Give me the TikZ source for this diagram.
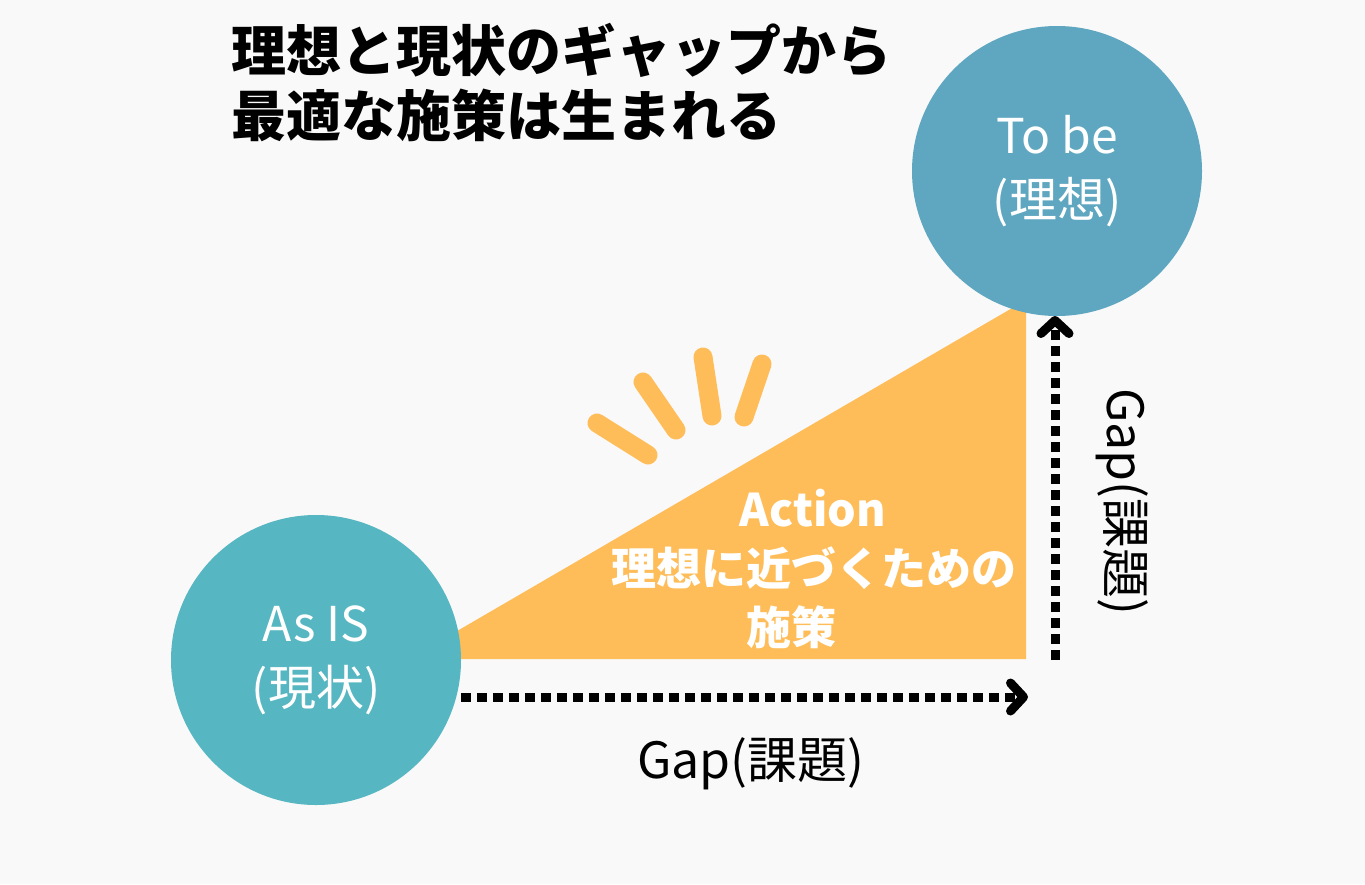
\documentclass[tikz,border=0pt]{standalone}
\usepackage{fontspec}
\setmainfont{Noto Sans CJK JP}
\usetikzlibrary{arrows.meta}
\definecolor{bgc}{HTML}{F9F9F9}
\definecolor{tobec}{HTML}{5FA7C0}
\definecolor{asisc}{HTML}{56B6C1}
\definecolor{orangec}{HTML}{FEBD59}
\tikzset{
  bubble/.style={circle, minimum size=290pt, inner sep=0pt, text=white, align=center,
    font=\fontsize{48}{64}\selectfont},
  ray/.style={draw=orangec, line width=19pt, line cap=round},
  gaparrow/.style={line width=9pt, dash pattern=on 10pt off 6pt,
    -{Straight Barb[round, length=13pt, width=28pt, line width=9pt]}},
  gaplabel/.style={font=\fontsize{50}{56}\selectfont, text=black, inner sep=0pt},
  acttext/.style={text=white, font=\bfseries\fontsize{45}{50}\selectfont, inner sep=0pt}
}
\begin{document}
\begin{tikzpicture}[x=1pt,y=-1pt]
\fill[bgc] (0,0) rectangle (1365,884);
\useasboundingbox (0,0) rectangle (1365,884);
% title
\node[anchor=north west, align=left, inner sep=0pt, font=\bfseries\fontsize{55}{65}\selectfont] (title) at (231,23)
  {理想と現状のギャップから\\最適な施策は生まれる};
% triangle
\fill[orangec] (409,659) -- (1026,659) -- (1026,300) -- cycle;
% rays
\coordinate (r1a) at (597,423); \coordinate (r1b) at (648,455);
\coordinate (r2a) at (643,382); \coordinate (r2b) at (676,430);
\coordinate (r3a) at (703,357); \coordinate (r3b) at (712,416);
\coordinate (r4a) at (762,364); \coordinate (r4b) at (744,417);
\draw[ray] (r1a) -- (r1b);
\draw[ray] (r2a) -- (r2b);
\draw[ray] (r3a) -- (r3b);
\draw[ray] (r4a) -- (r4b);
% circles
\node[bubble, fill=tobec] (tobe) at (1057,171) {To be\\(理想)};
\node[bubble, fill=asisc] (asis) at (316,660) {As IS\\(現状)};
% action text
\node[acttext] (act1) at (813,508) {Action};
\node[acttext] (act2) at (814,568) {理想に近づくための};
\node[acttext] (act3) at (791,627) {施策};
% arrows
\coordinate (h1) at (asis.east |- 0,697);
\coordinate (h2) at (1028,697);
\coordinate (v1) at (1055,660);
\coordinate (v2) at (1055,316);
\draw[gaparrow] (h1) -- (h2);
\draw[gaparrow] (v1) -- (v2);
% labels
\node[gaplabel] (gap1) at (751,764) {Gap(課題)};
\node[gaplabel, rotate=-90] (gap2) at (1122,502) {Gap(課題)};
\end{tikzpicture}
\end{document}
